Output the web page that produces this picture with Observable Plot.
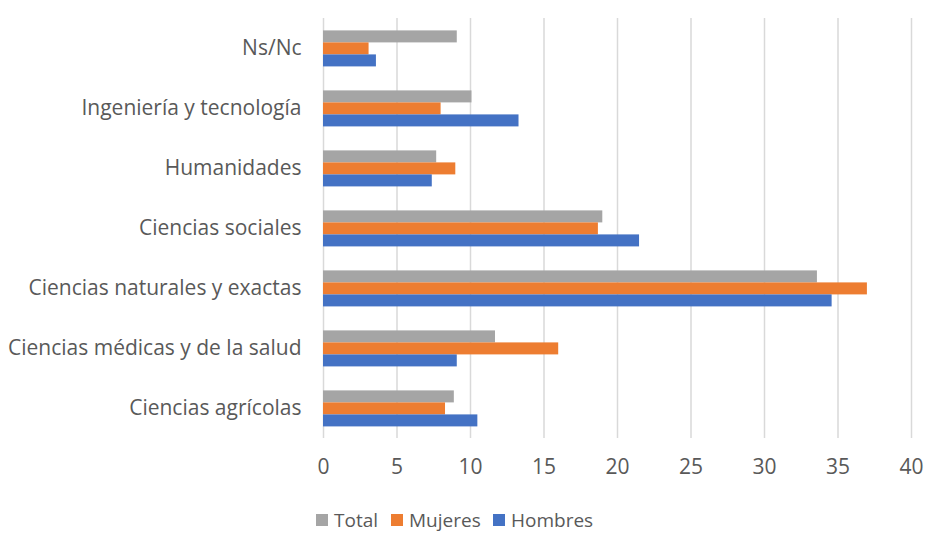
<!DOCTYPE html>
<html>
<head>
<meta charset="utf-8">
<script src="https://cdn.jsdelivr.net/npm/d3@7"></script>
<script src="https://cdn.jsdelivr.net/npm/@observablehq/plot@0.6"></script>
<style>
  body { margin: 0; background: #fff; font-family: "Open Sans", Lato, sans-serif; }
  #wrap { position: relative; width: 926px; height: 533px; overflow: hidden; }
  #legend { position: absolute; left: 0; top: 509px; width: 926px; height: 22px; font-size: 19px; line-height: 22px; color: #595959; }
  .item { position: absolute; top: 0; display: flex; align-items: center; height: 22px; }
  .sw { width: 12px; height: 12px; margin-right: 6px; }
</style>
</head>
<body>
<div id="wrap">
  <div id="chart"></div>
  <div id="legend"></div>
</div>
<script>
const categories = [
  "Ns/Nc",
  "Ingeniería y tecnología",
  "Humanidades",
  "Ciencias sociales",
  "Ciencias naturales y exactas",
  "Ciencias médicas y de la salud",
  "Ciencias agrícolas"
];
const series = ["Total", "Mujeres", "Hombres"];
const total   = [9.1, 10.1, 7.7, 19.0, 33.6, 11.7, 8.9];
const mujeres = [3.1, 8.0, 9.0, 18.7, 37.0, 16.0, 8.3];
const hombres = [3.6, 13.3, 7.4, 21.5, 34.6, 9.1, 10.5];
const colors = ["#a5a5a5", "#ed7d31", "#4472c4"];
const xTicks = [0, 5, 10, 15, 20, 25, 30, 35, 40];

const values = [total, mujeres, hombres];
const data = [];
categories.forEach((c, i) => {
  series.forEach((s, j) => data.push({category: c, series: s, value: values[j][i]}));
});

const plot = Plot.plot({
  width: 926,
  height: 500,
  marginLeft: 323,
  marginRight: 15,
  marginTop: 15.6,
  marginBottom: 59.4,
  style: {fontSize: "21px", fontFamily: "'Open Sans', Lato, sans-serif", color: "#595959", background: "#fff"},
  x: {domain: [0, 40], ticks: xTicks, tickSize: 0, tickPadding: 21, label: null},
  fy: {domain: categories, padding: 0, tickSize: 0, tickPadding: 22, label: null},
  y: {domain: series, axis: null, paddingInner: 0, paddingOuter: 0.9},
  color: {domain: series, range: colors},
  marks: [
    Plot.ruleX(xTicks, {stroke: "#d9d9d9", strokeWidth: 1.5}),
    Plot.barX(data, {fy: "category", y: "series", x: "value", fill: "series"})
  ]
});
document.getElementById("chart").appendChild(plot);

const legend = document.getElementById("legend");
const lx = [316, 391, 493];
series.forEach((s, i) => {
  const it = document.createElement("div");
  it.className = "item";
  it.style.left = lx[i] + "px";
  it.innerHTML = `<span class="sw" style="background:${colors[i]}"></span><span>${s}</span>`;
  legend.appendChild(it);
});
</script>
</body>
</html>
